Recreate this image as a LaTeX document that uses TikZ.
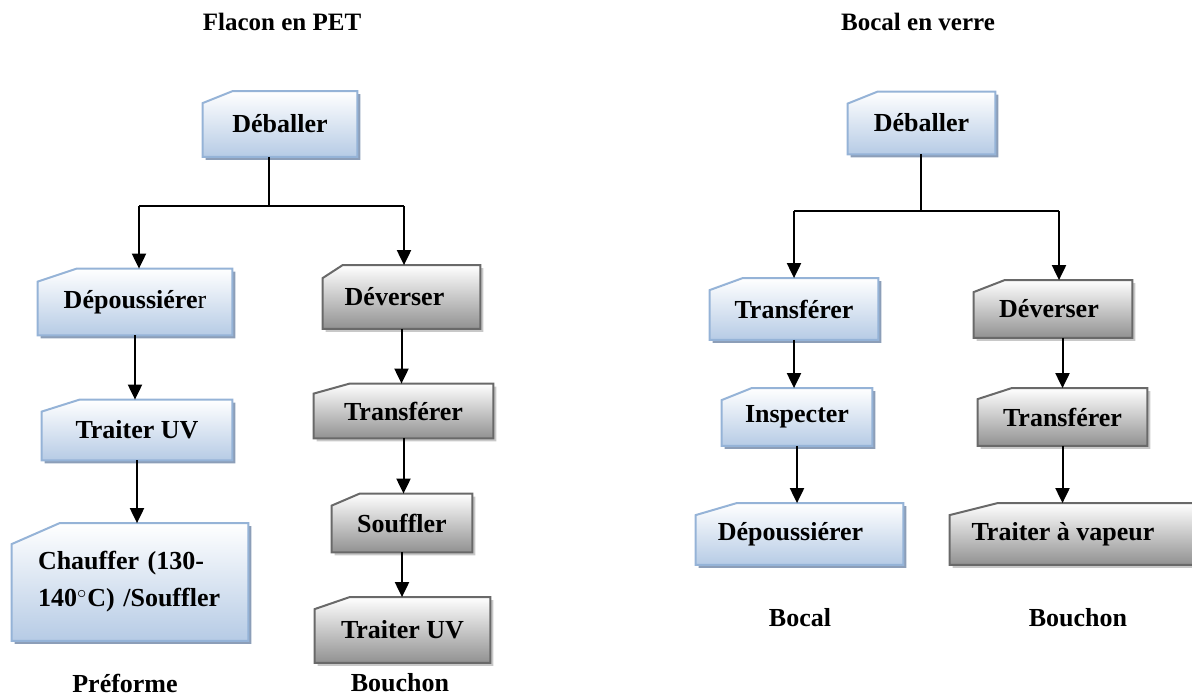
\documentclass[tikz,border=0pt]{standalone}
\usepackage{fontspec}
\setmainfont{Liberation Serif}
\usepackage{xcolor}
\usepackage{tikz}
\usetikzlibrary{
    arrows.meta,
    calc,
    backgrounds,
}

\definecolor{blueline}{RGB}{149,179,215}
\definecolor{bluebot}{RGB}{182,203,229}
\definecolor{blueshade}{RGB}{140,158,184}
\definecolor{grayline}{RGB}{105,105,105}
\definecolor{graybot}{RGB}{145,145,145}
\definecolor{grayshade}{RGB}{200,200,200}

% outline of a box with its top left corner cut off, plus its shadow
\newcommand{\cutshape}[4]{%
    \fill[#2 shadow] ([shift={(3,3)}]#1.south west) -- ([shift={(3,3)}]#1.south east)
        -- ([shift={(3,3)}]#1.north east) -- ([shift={(3+#3,3)}]#1.north west)
        -- ([shift={(3,3+#4)}]#1.north west) -- cycle;
    \path[#2 face] (#1.south west) -- (#1.south east)
        -- (#1.north east) -- ([shift={(#3,0)}]#1.north west)
        -- ([shift={(0,#4)}]#1.north west) -- cycle;
}

\begin{document}
\begin{tikzpicture}[
        x=0.5pt, y=-0.5pt,
        every node/.style={font=\fontsize{13}{18.5}\selectfont\bfseries},
        proc/.style={rectangle, inner sep=0pt, text centered},
        title/.style={font=\fontsize{12.5}{15}\selectfont\bfseries},
        blue face/.style={top color=white, bottom color=bluebot, draw=blueline, line width=1pt},
        blue shadow/.style={fill=blueshade},
        gray face/.style={top color=white, bottom color=graybot, draw=grayline, line width=1pt},
        gray shadow/.style={fill=grayshade},
        link/.style={line width=0.75pt},
        arrow/.style={-{Triangle[width=7pt,length=7.5pt]}, line width=1pt},
    ]
    \useasboundingbox (0,0) rectangle (1192,698);

    % ── Titles ──
    \node[title] (tpet) at (282,22) {Flacon en PET};
    \node[title] (tver) at (918,22) {Bocal en verre};

    % ── Flacon en PET: boxes ──
    \node[proc, minimum width=77pt, minimum height=32.5pt] (deb1) at (280,124) {Déballer};
    \node[proc, minimum width=97pt, minimum height=33pt] (dep1) at (135,302) {Dépoussiére{\mdseries r}};
    \node[proc, minimum width=95pt, minimum height=30pt] (tuv1) at (137,430) {Traiter UV};
    \node[proc, minimum width=118pt, minimum height=58.5pt, text width=92pt, align=left] (chf) at (130,582)
        {\raisebox{-2pt}{Chauffer (130-}\\\raisebox{-2pt}{140$^{\circ}$C) /Souffler}};
    \node[proc, minimum width=78.5pt, minimum height=31.5pt] (dev1) at (401.5,297) {\hspace*{-7pt}Déverser};
    \node[proc, minimum width=89.5pt, minimum height=27pt] (trf1) at (403.5,411) {Transférer};
    \node[proc, minimum width=70pt, minimum height=29pt] (sfl) at (402,523) {Souffler};
    \node[proc, minimum width=87.5pt, minimum height=32.5pt] (tuv2) at (402.5,630) {Traiter UV};

    \node (pref) at (125,683) {Préforme};
    \node (bch1) at (400,683) {Bouchon};

    % ── Bocal en verre: boxes ──
    \node[proc, minimum width=73.5pt, minimum height=31pt] (deb2) at (921.5,123) {Déballer};
    \node[proc, minimum width=84pt, minimum height=30.5pt] (trf2) at (794,309) {Transférer};
    \node[proc, minimum width=79pt, minimum height=28.5pt] (dev2) at (1053,309) {\hspace*{-4pt}Déverser};
    \node[proc, minimum width=75pt, minimum height=28.5pt] (insp) at (797,417) {Inspecter};
    \node[proc, minimum width=103.5pt, minimum height=30.5pt] (dep2) at (799.5,534) {\hspace*{-9pt}Dépoussiérer};
    \node[proc, minimum width=84.5pt, minimum height=28.5pt] (trf3) at (1062.5,417) {Transférer};
    \node[proc, minimum width=122pt, minimum height=30.5pt] (tav) at (1072,534) {\hspace*{-9pt}Traiter à vapeur};

    \node (bcl) at (800,618) {Bocal};
    \node (bch2) at (1078,618) {Bouchon};

    % ── Box outlines ──
    \begin{scope}[on background layer]
        \cutshape{deb1}{blue}{30}{12}
        \cutshape{dep1}{blue}{39}{13}
        \cutshape{tuv1}{blue}{38}{12}
        \cutshape{chf}{blue}{48}{21}
        \cutshape{dev1}{gray}{20}{13}
        \cutshape{trf1}{gray}{36}{10}
        \cutshape{sfl}{gray}{28}{12}
        \cutshape{tuv2}{gray}{35}{12}
        \cutshape{deb2}{blue}{30}{12}
        \cutshape{trf2}{blue}{33}{12}
        \cutshape{insp}{blue}{30}{12}
        \cutshape{dep2}{blue}{41}{12}
        \cutshape{dev2}{gray}{31}{12}
        \cutshape{trf3}{gray}{34}{11}
        \cutshape{tav}{gray}{48}{12}
    \end{scope}

    % ── Connectors: Flacon en PET ──
    \coordinate (jm1) at (269,206);
    \coordinate (jl1) at (139,206);
    \coordinate (jr1) at (404,206);
    \draw[link] (deb1.south -| jm1) -- (jm1);
    \draw[link] (jl1) -- (jr1);
    \draw[arrow] (jl1) -- (jl1 |- dep1.north);
    \draw[arrow] (jr1) -- (jr1 |- dev1.north);
    \draw[arrow] (dep1.south) -- (dep1.south |- tuv1.north);
    \draw[arrow] (tuv1.south) -- (tuv1.south |- chf.north);
    \draw[arrow] (dev1.south) -- (dev1.south |- trf1.north);
    \draw[arrow] (trf1.south) -- (trf1.south |- sfl.north);
    \draw[arrow] (sfl.south) -- (sfl.south |- tuv2.north);

    % ── Connectors: Bocal en verre ──
    \coordinate (jm2) at (921,211);
    \coordinate (jl2) at (794,211);
    \coordinate (jr2) at (1059,211);
    \draw[link] (deb2.south -| jm2) -- (jm2);
    \draw[link] (jl2) -- (jr2);
    \draw[arrow] (jl2) -- (jl2 |- trf2.north);
    \draw[arrow] (jr2) -- (jr2 |- dev2.north);
    \draw[arrow] (trf2.south) -- (trf2.south |- insp.north);
    \draw[arrow] (insp.south) -- (insp.south |- dep2.north);
    \draw[arrow] (dev2.south -| trf3.north) -- (trf3.north);
    \draw[arrow] (trf3.south) -- (trf3.south |- tav.north);

\end{tikzpicture}
\end{document}
